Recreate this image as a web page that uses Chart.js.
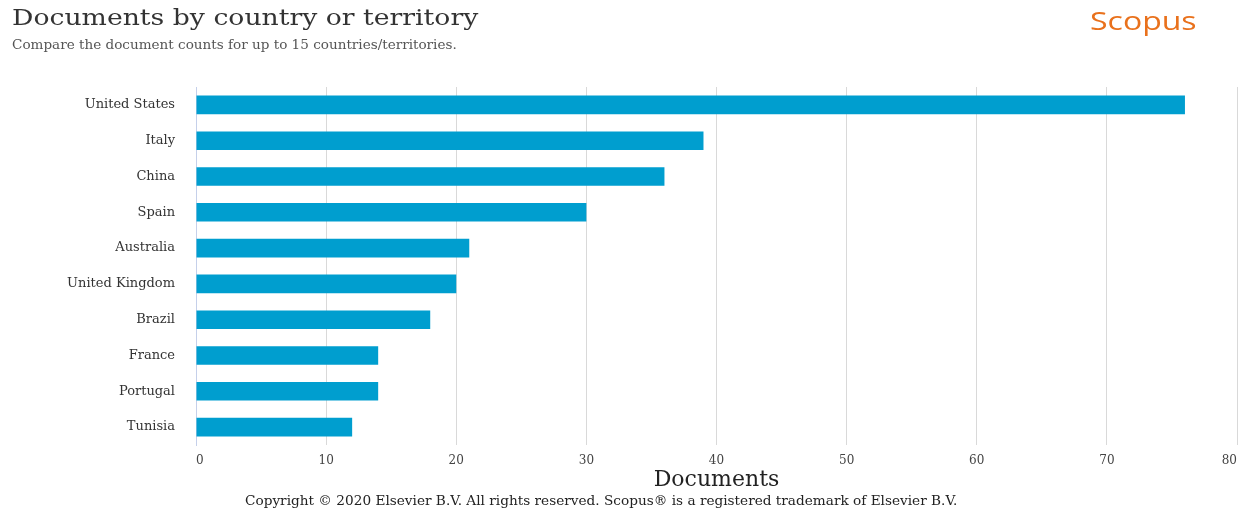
<!DOCTYPE html>
<html>
<head>
<meta charset="utf-8">
<script src="https://cdn.jsdelivr.net/npm/chart.js@4"></script>
<style>
  html, body { margin: 0; padding: 0; background: #fff; }
  #wrap { position: relative; width: 1242px; height: 509px; overflow: hidden; }
  #chart { position: absolute; left: 0; top: 0; }
  .txt { position: absolute; white-space: nowrap; font-family: "DejaVu Serif", serif; transform-origin: left top; }
  #title { left: 12px; top: 4px; font-size: 23px; color: #333; transform: scaleX(1.16); }
  #subtitle { left: 12px; top: 38px; font-size: 12px; color: #555; transform: scaleX(1.13); }
  #brand { left: 1090px; top: 3px; font-family: "Open Sans", sans-serif; font-size: 25px; color: #e9711c; transform: scaleX(1.28); }
  #copyright { left: 245px; top: 493px; font-size: 13px; color: #222; transform: scaleX(1.05); }
</style>
</head>
<body>
<div id="wrap">
  <canvas id="chart" width="1242" height="509"></canvas>
  <div class="txt" id="title">Documents by country or territory</div>
  <div class="txt" id="subtitle">Compare the document counts for up to 15 countries/territories.</div>
  <div class="txt" id="brand">Scopus</div>
  <div class="txt" id="copyright">Copyright © 2020 Elsevier B.V. All rights reserved. Scopus® is a registered trademark of Elsevier B.V.</div>
</div>
<script>
const countries = ['United States', 'Italy', 'China', 'Spain', 'Australia', 'United Kingdom', 'Brazil', 'France', 'Portugal', 'Tunisia'];
const documentCounts = [76, 39, 36, 30, 21, 20, 18, 14, 14, 12];
const xTicks = [0, 10, 20, 30, 40, 50, 60, 70, 80];

document.addEventListener("DOMContentLoaded", function() {
    const ctx = document.getElementById('chart');

    new Chart(ctx, {
        type: 'bar',
        data: {
            labels: countries,
            datasets: [
                {
                    label: 'Documents',
                    backgroundColor: '#009ecf',
                    data: documentCounts,
                    barPercentage: 0.52,
                    categoryPercentage: 1
                }
            ]
        },
        options: {
            indexAxis: 'y',
            responsive: false,
            animation: false,
            layout: { padding: { top: 87, right: 0, left: 0, bottom: 14 } },
            plugins: {
                legend: { display: false },
                tooltip: { enabled: false }
            },
            scales: {
                x: {
                    min: 0,
                    max: 80,
                    afterBuildTicks: function(scale) {
                        scale.ticks = xTicks.map(v => ({ value: v }));
                    },
                    afterFit: function(scale) {
                        scale.height = 50;
                        // plot runs nearly to the right edge
                        scale.paddingRight = 5;
                    },
                    grid: { color: '#d9d9d9', drawTicks: false },
                    border: { display: false },
                    ticks: {
                        align: 'inner',
                        padding: 9,
                        color: '#444',
                        font: { family: 'DejaVu Serif', size: 12 }
                    },
                    title: {
                        display: true,
                        text: 'Documents',
                        color: '#222',
                        padding: { top: 0, bottom: 2 },
                        font: { family: 'DejaVu Serif', size: 22 }
                    }
                },
                y: {
                    afterFit: function(scale) { scale.width = 196; },
                    grid: { display: false, drawTicks: false },
                    border: { display: true, color: '#c5d0ea', width: 1 },
                    ticks: {
                        padding: 21,
                        color: '#333',
                        font: { family: 'DejaVu Serif', size: 13 }
                    }
                }
            }
        }
    });
});
</script>
</body>
</html>
